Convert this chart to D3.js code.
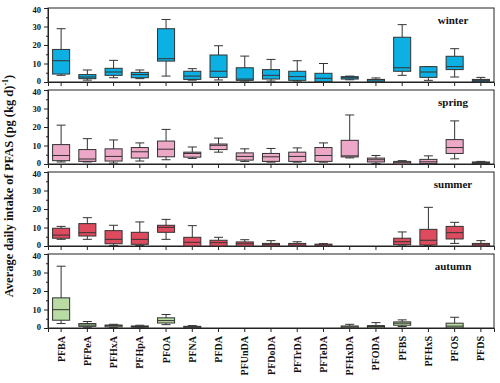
<!DOCTYPE html>
<html>
<head>
<meta charset="utf-8">
<script src="https://cdn.jsdelivr.net/npm/d3@7"></script>
<style>
  body { margin: 0; background: #fff; }
  text { font-family: "Liberation Serif", "Times New Roman", serif; font-weight: bold; }
</style>
</head>
<body>
<script>
// compounds on the x axis
const compounds = ["PFBA", "PFPeA", "PFHxA", "PFHpA", "PFOA", "PFNA", "PFDA", "PFUnDA", "PFDoDA",
  "PFTrDA", "PFTeDA", "PFHxDA", "PFODA", "PFBS", "PFHxS", "PFOS", "PFDS"];

// [low whisker, q1, median, q3, high whisker] per compound, null = not drawn
const winter = [
  [3.6, 4.3, 11.5, 17.6, 28.8], [1, 1.8, 2.7, 4, 6.5], [2.3, 3.6, 5.4, 7.4, 11.7], [1.8, 2.3, 4, 5.2, 6.5],
  [3.2, 11.3, 12.6, 28.8, 33.8], [1, 1.4, 3.2, 5.8, 7.2], [1.1, 2.5, 5.8, 14.6, 19.6], [0.5, 0.9, 1.6, 7.7, 14],
  [0.5, 1.6, 3.6, 6.7, 12.2], [0.5, 0.9, 2.9, 5.8, 11.5], [0, 0.2, 2, 4.7, 10], [1.2, 1.6, 2.3, 2.9, 3.2],
  [0, 0.2, 1.1, 1.4, 2.2], [3.6, 5.8, 7.7, 24.2, 31], [0.9, 2.5, 5.4, 8.3, 8.3], [2.7, 6.7, 8.3, 13.9, 18],
  [0, 0.2, 0.9, 1.4, 2.5]
];
const spring = [
  [1.1, 1.8, 4.6, 10.5, 21], [1.1, 1.4, 2.7, 7.8, 13.7], [0.5, 1.6, 4.1, 8.2, 13], [1.6, 3.2, 6.6, 8.9, 11.4],
  [2.3, 3.9, 8, 12.4, 18.7], [3, 3.7, 5.7, 6.4, 9.2], [6.4, 7.8, 10.1, 10.8, 14], [1.4, 2.1, 4.1, 6, 8.2],
  [1, 1.4, 3.9, 5.7, 8.4], [1, 1.4, 4.1, 6.4, 8.7], [1, 1.4, 4.6, 8.9, 11.4], [3.3, 3.8, 4.4, 12.8, 26.5],
  [0.3, 1.1, 2.3, 3.2, 4.6], [0, 0, 0.7, 1.4, 1.8], [0, 0.3, 1.2, 2.5, 4.4], [2.8, 5.7, 8.9, 13.2, 23.3],
  [0, 0.3, 0.7, 1.1, 1.4]
];
const summer = [
  [3.6, 4.2, 5.9, 9.6, 10.6], [3.6, 5.4, 7.2, 12.1, 15.3], [0.3, 1.2, 3.6, 8.3, 11.2], [0.3, 0.9, 3.6, 7.4, 13],
  [3.6, 7.4, 10.1, 11.2, 14.4], [0, 0, 2, 4.7, 11], [0, 0, 1.8, 3.1, 4.7], [0, 0, 1.2, 2.2, 3.4],
  [0, 0, 0.7, 1.4, 2.9], [0, 0, 0.5, 1.4, 2.3], [0, 0, 0.5, 1, 1.3], null,
  null, [0.5, 0.7, 2.3, 4.2, 7.6], [0.3, 0.5, 3.1, 9, 20.9], [1.4, 3.8, 7.2, 10.6, 12.8],
  [0, 0, 0.6, 1.4, 2.9]
];
const autumn = [
  [2.4, 4.2, 9.9, 16.3, 33.4], [0.4, 0.9, 1.6, 2.4, 3.5], [0.3, 0.6, 1.3, 1.6, 2], [0.2, 0.4, 0.8, 1.1, 1.5],
  [1.8, 2.7, 4, 5.5, 7.3], [0, 0.2, 0.6, 0.9, 1.3], null, null,
  null, null, null, [0, 0.1, 0.6, 1.1, 2],
  [0, 0.1, 0.8, 1.3, 2.9], [0.8, 1.5, 2.6, 3.3, 4.4], null, [0, 0.1, 1, 2.6, 5.8],
  null
];

const seasonNames = ["winter", "spring", "summer", "autumn"];
const seasonColors = ["#0cb0e2", "#eca8c6", "#de4b5e", "#b8dca2"];
const yTicks = [0, 10, 20, 30, 40];

const W = 500, H = 383;
const left = 48, right = 494;
const panelTop = [8, 90, 172, 254];
const panelH = 74;

const svg = d3.select("body").append("svg")
  .attr("width", W)
  .attr("height", H);

const x = d3.scaleBand().domain(compounds).range([left, right]).padding(0);
const boxW = x.bandwidth() * 0.65;
const capW = 9;

[winter, spring, summer, autumn].forEach((data, i) => {
  const top = panelTop[i];
  const y = d3.scaleLinear().domain([0, 40]).range([top + panelH, top]);
  const g = svg.append("g");

  // frame
  g.append("rect")
    .attr("x", left).attr("y", top)
    .attr("width", right - left).attr("height", panelH)
    .attr("fill", "none").attr("stroke", "#222").attr("stroke-width", 1);

  // minor y ticks
  g.append("g")
    .attr("transform", `translate(${left},0)`)
    .call(d3.axisLeft(y).tickValues([5, 15, 25, 35]).tickSize(2).tickFormat(""))
    .call(a => a.select(".domain").remove())
    .selectAll("line").attr("stroke", "#222");

  const ya = g.append("g")
    .attr("transform", `translate(${left},0)`)
    .call(d3.axisLeft(y).tickValues(yTicks).tickSize(4).tickPadding(3));
  ya.select(".domain").attr("stroke", "#222");
  ya.selectAll("line").attr("stroke", "#222");
  ya.selectAll("text")
    .style("font-size", "8.5px")
    .attr("fill", "#111")
    .attr("dy", d => d === 0 ? "0.12em" : d === 40 ? "0.5em" : "0.32em");

  const xa = g.append("g")
    .attr("transform", `translate(0,${top + panelH})`)
    .call(d3.axisBottom(x).tickSize(4).tickFormat(""));
  xa.select(".domain").attr("stroke", "#222");
  xa.selectAll("line").attr("stroke", "#222");

  // boxes
  data.forEach((d, k) => {
    if (!d) return;
    const cx = x(compounds[k]) + x.bandwidth() / 2;
    const [lo, q1, med, q3, hi] = d;
    g.append("line")
      .attr("x1", cx).attr("x2", cx)
      .attr("y1", y(hi)).attr("y2", y(lo))
      .attr("stroke", "#333").attr("stroke-width", 1);
    [lo, hi].forEach(v => {
      g.append("line")
        .attr("x1", cx - capW / 2).attr("x2", cx + capW / 2)
        .attr("y1", y(v)).attr("y2", y(v))
        .attr("stroke", "#333").attr("stroke-width", 1);
    });
    g.append("rect")
      .attr("x", cx - boxW / 2).attr("width", boxW)
      .attr("y", y(q3)).attr("height", Math.max(y(q1) - y(q3), 0.5))
      .attr("fill", seasonColors[i])
      .attr("stroke", "#333").attr("stroke-width", 1);
    g.append("line")
      .attr("x1", cx - boxW / 2).attr("x2", cx + boxW / 2)
      .attr("y1", y(med)).attr("y2", y(med))
      .attr("stroke", "#333").attr("stroke-width", 1);
  });

  g.append("text")
    .attr("x", 453).attr("y", top + 16)
    .attr("text-anchor", "middle")
    .style("font-size", "11px")
    .attr("fill", "#111")
    .text(seasonNames[i]);
});

// x labels
svg.append("g").selectAll("text")
  .data(compounds)
  .join("text")
  .attr("transform", d => `translate(${x(d) + x.bandwidth() / 2 + 3.5},${panelTop[3] + panelH + 8}) rotate(-90)`)
  .attr("text-anchor", "end")
  .style("font-size", "10px")
  .attr("fill", "#111")
  .text(d => d);

// y label
svg.append("text")
  .attr("transform", "translate(13,186) rotate(-90)")
  .attr("text-anchor", "middle")
  .style("font-size", "12.5px")
  .attr("fill", "#111")
  .html("Average daily intake of PFAS (pg (kg d)<tspan dy='-5' font-size='8px'>-1</tspan><tspan dy='5'>)</tspan>");
</script>
</body>
</html>
